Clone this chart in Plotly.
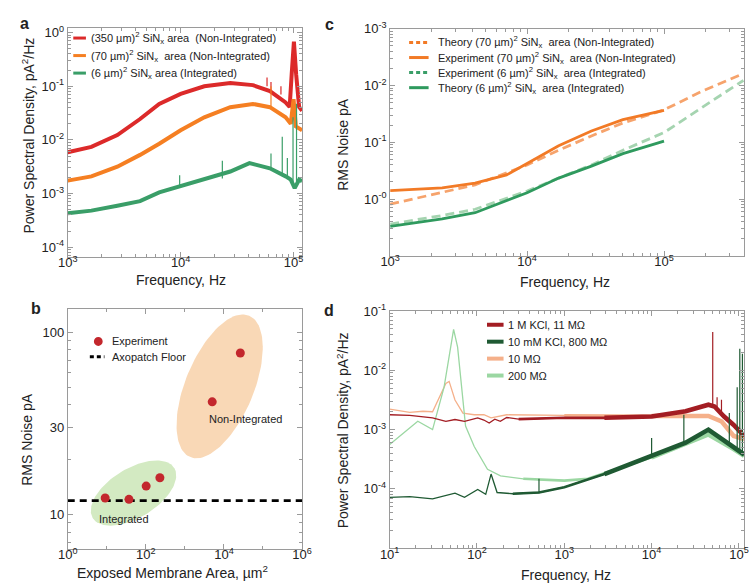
import numpy as np
import plotly.graph_objects as go

W, H = 754, 583
FONT = "Liberation Sans, Arial, sans-serif"
AXC = "#9a9a9a"
TXT = "#222222"

# ---------------- Panel a : PSD of three membranes ----------------
a_names = ["(350 µm)<sup>2</sup> SiN<sub>x</sub> area  (Non-Integrated)",
           "(70 µm)<sup>2</sup> SiN<sub>x</sub>  area (Non-Integrated)",
           "(6 µm)<sup>2</sup> SiN<sub>x</sub> area (Integrated)"]
a_colors = ["#dc2a2a", "#f57f22", "#3a9e68"]
a_red_f = [1000, 1620, 2750, 4370, 6460, 10000, 16200, 27500, 43600, 61700, 85000, 92300, 96200, 100700, 105400, 112000, 118900]
a_red_v = [5.9e-3, 7.4e-3, 1.23e-2, 2.45e-2, 4.7e-2, 7.2e-2, 0.100, 0.115, 0.105, 0.081, 0.050, 0.041, 0.166, 0.68, 0.166, 0.041, 0.035]
a_org_f = [1000, 1620, 2750, 4370, 6460, 10000, 16200, 27500, 43600, 61700, 85000, 94400, 100000, 104700, 118900]
a_org_v = [1.74e-3, 2.09e-3, 3.16e-3, 5.25e-3, 8.5e-3, 1.51e-2, 2.63e-2, 4.07e-2, 4.68e-2, 4.07e-2, 2.63e-2, 2.0e-2, 5.75e-2, 1.78e-2, 1.51e-2]
a_grn_f = [1000, 1620, 2750, 4370, 6460, 10000, 16200, 27500, 40700, 46800, 61700, 85100, 94400, 102300, 112200, 118900]
a_grn_v = [4.3e-4, 4.8e-4, 5.9e-4, 7.2e-4, 1.05e-3, 1.38e-3, 1.82e-3, 2.57e-3, 3.7e-3, 3.47e-3, 2.95e-3, 2.09e-3, 1.82e-3, 1.26e-3, 1.82e-3, 1.7e-3]
# narrow spikes: frequency, base, top
a_red_spk = ([58200, 63100, 77300], [0.10, 0.085, 0.07], [0.145, 0.12, 0.10])
a_org_spk = ([63100], [0.042], [0.10])
a_grn_spk = ([9800, 23400, 63100, 79400, 88100, 98900, 106200],
             [1.38e-3, 1.9e-3, 2.9e-3, 2.4e-3, 2.0e-3, 1.5e-3, 1.5e-3],
             [2.2e-3, 4.1e-3, 5.6e-3, 1.15e-2, 4.6e-3, 2.63e-2, 4.7e-2])

# ---------------- Panel b : RMS noise vs area ----------------
b_area = [9.1, 37, 102, 229, 5010, 26300]
b_rms = [12.3, 12.1, 14.3, 15.9, 41.5, 76.9]
b_floor = 11.9
b_area_range = [1, 1e6]
# highlight ellipses: centre (log10 area, log10 rms), semi-axes (px), angle (deg)
b_ell_non = (3.89, 1.703, 78, 35, 67)
b_ell_int = (1.685, 1.117, 49, 25, 31)

# ---------------- Panel c : integrated RMS noise ----------------
c_names = ["Theory (70 µm)<sup>2</sup> SiN<sub>x</sub>  area (Non-Integrated)",
           "Experiment (70 µm)<sup>2</sup> SiN<sub>x</sub>  area (Non-Integrated)",
           "Experiment (6 µm)<sup>2</sup> SiN<sub>x</sub>  area (Integrated)",
           "Theory (6 µm)<sup>2</sup> SiN<sub>x</sub>  area (Integrated)"]
c_f_long = [1000, 2400, 4170, 10000, 17000, 29500, 50100, 100000, 186000, 380000]
c_org_theory = [0.81, 1.29, 1.78, 3.98, 7.24, 12.9, 21.9, 37.2, 77.6, 162]
c_grn_dash = [0.363, 0.513, 0.661, 1.38, 2.34, 3.98, 7.24, 14.8, 39.8, 123]
c_f_exp = [1000, 2400, 4170, 7080, 10000, 17000, 29500, 50100, 100000]
c_org_exp = [1.41, 1.57, 1.91, 2.66, 4.23, 8.71, 15.8, 25.1, 36.3]
c_f_gs = [1000, 2400, 4170, 10000, 17000, 29500, 50100, 100000]
c_grn_solid = [0.331, 0.447, 0.575, 1.29, 2.34, 3.80, 6.31, 10.5]
c_ticktext = ["10<sup>-0</sup>", "10<sup>-1</sup>", "10<sup>-2</sup>", "10<sup>-3</sup>"]

# ---------------- Panel d : PSD in different conditions ----------------
d_names = ["1 M KCl, 11 MΩ", "10 mM KCl, 800 MΩ", "10 MΩ", "200 MΩ"]
d_colors = ["#a31d23", "#1f5a33", "#f5b08a", "#9bd7a2"]
d_red_f = [10, 17, 31, 44, 56, 72, 102, 120, 138, 160, 185, 219, 300, 1000, 2880, 10000, 24500, 44700, 52500, 67600, 87100, 114800]
d_red_v = [1.78e-3, 1.74e-3, 1.58e-3, 1.38e-3, 1.48e-3, 1.38e-3, 1.58e-3, 1.45e-3, 1.29e-3, 1.5e-3, 1.38e-3, 1.6e-3, 1.5e-3, 1.58e-3, 1.58e-3, 1.66e-3, 2.04e-3, 2.63e-3, 2.45e-3, 1.66e-3, 1.20e-3, 7.8e-4]
d_dg_f = [10, 17, 31, 56, 72, 102, 126, 145, 170, 257, 513, 1000, 2880, 10000, 24500, 44700, 57500, 87100, 114800]
d_dg_v = [7.2e-5, 7.4e-5, 6.8e-5, 8.5e-5, 7.2e-5, 9.8e-5, 8.1e-5, 1.78e-4, 8.7e-5, 8.3e-5, 8.7e-5, 1.07e-4, 1.78e-4, 3.6e-4, 6.0e-4, 1.0e-3, 7.8e-4, 5.0e-4, 3.8e-4]
d_pe_f = [10, 17, 24, 31, 44, 48, 56, 69, 93, 120, 145, 219, 1000, 10000, 24500, 44700, 63100, 87100, 114800]
d_pe_v = [2.21e-3, 1.95e-3, 2.04e-3, 2.0e-3, 6.0e-3, 6.5e-3, 3.16e-3, 1.9e-3, 1.78e-3, 1.78e-3, 1.58e-3, 1.78e-3, 1.74e-3, 1.7e-3, 1.7e-3, 1.7e-3, 1.38e-3, 7.8e-4, 6.9e-4]
d_lg_f = [10, 21, 31, 42, 54, 60, 74, 93, 132, 186, 339, 1000, 1860, 10000, 30900, 44700, 87100, 114800]
d_lg_v = [5.6e-4, 1.38e-3, 1.0e-3, 5.2e-3, 4.9e-2, 2.45e-2, 1.15e-3, 5.2e-4, 2.14e-4, 1.66e-4, 1.48e-4, 1.38e-4, 1.48e-4, 3.4e-4, 6.8e-4, 8.3e-4, 4.7e-4, 3.6e-4]
d_red_spk = ([50100, 56200, 63100], [2.5e-3, 2.3e-3, 2.0e-3], [4.4e-2, 3.5e-3, 3.2e-3])
d_dg_spk = ([513, 10000, 23400, 77600, 95500, 102300, 109600],
            [8.7e-5, 3.6e-4, 6.0e-4, 6.0e-4, 5.0e-4, 4.5e-4, 4.0e-4],
            [1.48e-4, 7.2e-4, 1.78e-3, 1.9e-3, 5.2e-3, 2.3e-2, 1.9e-2])
# frequency bands where the measured traces become a dense noisy band (line widths grow)
d_band_steps = [(250, 2.6), (2500, 4.6)]


def px(x):
    return x / W


def py(y):
    return 1 - y / H


def minor_vals(d0, d1):
    return [k * 10.0 ** d for d in range(d0, d1 + 1) for k in range(2, 10)]


def log_axis(domain, rng, tickvals, ticktext, minor, anchor, xax=False, overflow=False):
    d = dict(type="log", domain=domain, range=rng, anchor=anchor,
             tickmode="array", tickvals=tickvals, ticktext=ticktext,
             showline=True, linecolor=AXC, linewidth=1, mirror="ticks",
             ticks="inside", ticklen=5, tickcolor=AXC, tickwidth=1,
             showgrid=False, zeroline=False,
             tickfont=dict(family=FONT, size=13, color=TXT),
             minor=dict(tickmode="array", tickvals=minor, ticks="inside",
                        ticklen=3, tickcolor=AXC, showgrid=False))
    if xax:
        d["ticklabelstandoff"] = -6
    if overflow:
        d["ticklabeloverflow"] = "allow"
    return d


def spikes(spk):
    xs, ys = [], []
    for f, lo, hi in zip(*spk):
        xs += [f, f, None]
        ys += [lo, hi, None]
    return xs, ys


fig = go.Figure()

# ---- panel a traces
for (f, v, spk), col in zip([(a_red_f, a_red_v, a_red_spk), (a_org_f, a_org_v, a_org_spk),
                             (a_grn_f, a_grn_v, a_grn_spk)], a_colors):
    fig.add_trace(go.Scatter(x=f, y=v, mode="lines", line=dict(color=col, width=4),
                             xaxis="x", yaxis="y", showlegend=False, hoverinfo="skip"))
    sx, sy = spikes(spk)
    fig.add_trace(go.Scatter(x=sx, y=sy, mode="lines", line=dict(color=col, width=1.2),
                             xaxis="x", yaxis="y", showlegend=False, hoverinfo="skip"))

# ---- panel b traces
SXB = 241 / 6.0
SYB = 243 / (2.126 - 0.8125)
t = np.linspace(0, 2 * np.pi, 120)
for (cx, cy, a, b, ang), col in [(b_ell_non, "#f9d8b6"), (b_ell_int, "#d3eac2")]:
    th = np.radians(ang)
    dx = a * np.cos(t) * np.cos(th) - b * np.sin(t) * np.sin(th)
    dy = a * np.cos(t) * np.sin(th) + b * np.sin(t) * np.cos(th)
    fig.add_trace(go.Scatter(x=10 ** (cx + dx / SXB), y=10 ** (cy + dy / SYB), mode="lines",
                             fill="toself", fillcolor=col, line=dict(width=0, color=col),
                             xaxis="x2", yaxis="y2", showlegend=False, hoverinfo="skip"))
fig.add_trace(go.Scatter(x=b_area_range, y=[b_floor, b_floor], mode="lines",
                         line=dict(color="black", width=2.6, dash="7px,5px"),
                         xaxis="x2", yaxis="y2", showlegend=False))
fig.add_trace(go.Scatter(x=b_area, y=b_rms, mode="markers",
                         marker=dict(color="#c3272d", size=9),
                         xaxis="x2", yaxis="y2", showlegend=False))

# ---- panel c traces
c_series = [
    (c_f_long, c_org_theory, "#f6a36c", "9px,5px"),
    (c_f_exp, c_org_exp, "#f27a26", "solid"),
    (c_f_long, c_grn_dash, "#a5d4b0", "9px,5px"),
    (c_f_gs, c_grn_solid, "#2f9a5e", "solid"),
]
for f, v, col, dash in c_series:
    fig.add_trace(go.Scatter(x=f, y=v, mode="lines", line=dict(color=col, width=2.8, dash=dash),
                             xaxis="x3", yaxis="y3", showlegend=False, hoverinfo="skip"))

# ---- panel d traces (peach & light green below, dark on top)
d_order = [(d_pe_f, d_pe_v, 2, None), (d_lg_f, d_lg_v, 3, None),
           (d_red_f, d_red_v, 0, d_red_spk), (d_dg_f, d_dg_v, 1, d_dg_spk)]
for f, v, ci, spk in d_order:
    fig.add_trace(go.Scatter(x=f, y=v, mode="lines", line=dict(color=d_colors[ci], width=1.3),
                             xaxis="x4", yaxis="y4", showlegend=False, hoverinfo="skip"))
    for fstart, wid in d_band_steps:
        hf = [fi for fi in f if fi >= fstart]
        hv = [vi for fi, vi in zip(f, v) if fi >= fstart]
        fig.add_trace(go.Scatter(x=hf, y=hv, mode="lines", line=dict(color=d_colors[ci], width=wid),
                                 xaxis="x4", yaxis="y4", showlegend=False, hoverinfo="skip"))
    if spk:
        sx, sy = spikes(spk)
        fig.add_trace(go.Scatter(x=sx, y=sy, mode="lines", line=dict(color=d_colors[ci], width=1.2),
                                 xaxis="x4", yaxis="y4", showlegend=False, hoverinfo="skip"))

# ---- axes
dom_ax = [px(59.3), px(300)]
dom_cx = [px(390.5), 1.0]
layout = dict(
    width=W, height=H, margin=dict(l=0, r=0, t=0, b=0),
    paper_bgcolor="white", plot_bgcolor="white", showlegend=False,
    font=dict(family=FONT, color=TXT),
    xaxis=log_axis(dom_ax, [3, 5.075], [1e3, 1e4, 1e5],
                   ["10<sup>3</sup>", "10<sup>4</sup>", "10<sup>5</sup>"], minor_vals(3, 5), "y", xax=True),
    yaxis=log_axis([py(251.7), py(19.3)], [-4.18, 0.086], [1e-4, 1e-3, 1e-2, 1e-1, 1],
                   ["10<sup>-4</sup>", "10<sup>-3</sup>", "10<sup>-2</sup>", "10<sup>-1</sup>", "10<sup>0</sup>"],
                   minor_vals(-5, 0), "x"),
    xaxis2=log_axis(dom_ax, [0, 6], [1, 1e2, 1e4, 1e6],
                    ["10<sup>0</sup>", "10<sup>2</sup>", "10<sup>4</sup>", "10<sup>6</sup>"],
                    [10, 1e3, 1e5], "y2", xax=True),
    yaxis2=log_axis([py(548), py(305)], [0.8125, 2.126], [10, 30, 100], ["10", "30", "100"],
                    [7, 8, 9, 20, 40, 50, 60, 70, 80, 90], "x2"),
    xaxis3=log_axis(dom_cx, [3, 5.584], [1e3, 1e4, 1e5],
                    ["10<sup>3</sup>", "10<sup>4</sup>", "10<sup>5</sup>"], minor_vals(3, 5), "y3", xax=True),
    yaxis3=log_axis([py(250.7), py(20)], [-1, 3], [1, 10, 100, 1000], c_ticktext,
                    minor_vals(-1, 2), "x3"),
    xaxis4=log_axis([px(390), 1.0], [1, 5.058], [1e1, 1e2, 1e3, 1e4, 1e5],
                    ["10<sup>1</sup>", "10<sup>2</sup>", "10<sup>3</sup>", "10<sup>4</sup>", "10<sup>5</sup>"],
                    minor_vals(1, 5), "y4", xax=True, overflow=True),
    yaxis4=log_axis([py(547.7), py(306.7)], [-5, -1], [1e-4, 1e-3, 1e-2, 1e-1],
                    ["10<sup>-4</sup>", "10<sup>-3</sup>", "10<sup>-2</sup>", "10<sup>-1</sup>"],
                    minor_vals(-5, -2), "x4"),
)
fig.update_layout(**layout)

ann = []
shapes = []


def text(x, y, s, size=11, anchor="left", angle=0, bold=False):
    ann.append(dict(x=px(x), y=py(y), xref="paper", yref="paper", text=("<b>%s</b>" % s) if bold else s,
                    showarrow=False, xanchor=anchor, yanchor="middle", textangle=angle,
                    font=dict(family=FONT, size=size, color=TXT)))


def legline(x0, x1, y, col, width, dash="solid"):
    shapes.append(dict(type="line", xref="paper", yref="paper", x0=px(x0), x1=px(x1),
                       y0=py(y), y1=py(y), line=dict(color=col, width=width, dash=dash)))


# panel letters
text(15, 15, "a", 16, "center", bold=True)
text(27, 304, "b", 16, "center", bold=True)
text(328, 16, "c", 16, "center", bold=True)
text(328, 306, "d", 16, "center", bold=True)

# axis titles
text(19, 128, "Power Spectral Density, pA<sup>2</sup>/Hz", 14, "center", -90)
text(176, 275, "Frequency, Hz", 14, "center")
text(18, 438, "RMS Noise pA", 14, "center", -90)
text(167, 572, "Exposed Membrane Area, µm<sup>2</sup>", 14, "center")
text(342, 138, "RMS Noise pA", 14, "center", -90)
text(570, 277, "Frequency, Hz", 14, "center")
text(342, 428, "Power Spectral Density, pA<sup>2</sup>/Hz", 14, "center", -90)
text(571, 575, "Frequency, Hz", 14, "center")

# legend a
for i, (nm, col) in enumerate(zip(a_names, a_colors)):
    yy = 29.5 + i * 17.8
    legline(65, 78, yy, col, 3)
    text(81, yy, nm)

# legend b
shapes.append(dict(type="circle", xref="paper", yref="paper", x0=px(86.2), x1=px(95.2),
                   y0=py(333.2), y1=py(342.2), fillcolor="#c3272d", line=dict(width=0)))
text(103, 337.7, "Experiment")
legline(82, 97, 353.3, "black", 3, "4px,3px")
text(103, 353.3, "Axopatch Floor")
text(241.7, 416.7, "Non-Integrated", 11, "center")
text(117, 517.7, "Integrated", 11, "center")

# legend c
c_leg = [("#f27a26", "4px,3px"), ("#f27a26", "solid"), ("#3a9e68", "4px,3px"), ("#2f9a5e", "solid")]
for i, (nm, (col, dash)) in enumerate(zip(c_names, c_leg)):
    yy = 34 + i * 15.3
    legline(410, 430, yy, col, 3, dash)
    text(437.7, yy, nm)

# legend d
for i, nm in enumerate(d_names):
    yy = 320.7 + i * 17.2
    legline(490, 507, yy, d_colors[i], 4)
    text(510, yy, nm)

fig.update_layout(annotations=ann, shapes=shapes)
fig.write_html("out.html", config={"displayModeBar": False},
               post_script="document.body.style.margin='0px';document.body.style.padding='0px';"
                           "document.body.style.overflow='hidden';")
